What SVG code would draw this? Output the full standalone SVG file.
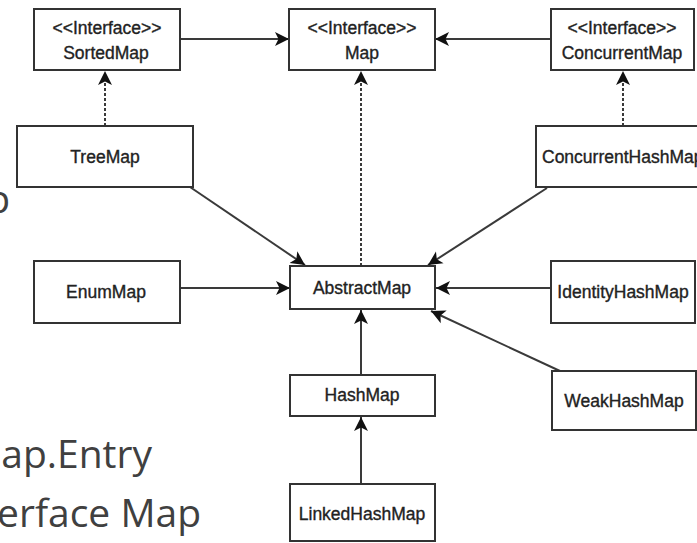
<svg xmlns="http://www.w3.org/2000/svg" width="697" height="543" viewBox="0 0 697 543">
<style>
  .box { fill: #fff; stroke: #333; stroke-width: 2; }
  .lbl { font-family: "Liberation Sans", Arial, sans-serif; font-size: 17.5px; fill: #222; stroke: #222; stroke-width: 0.35; text-anchor: middle; }
  .edge { fill: none; stroke: #3a3a3a; stroke-width: 2; marker-end: url(#arr); }
  .dash { stroke-dasharray: 3 2; }
  .bg { font-family: "Open Sans", "Noto Sans", sans-serif; font-size: 39px; fill: #404040; text-anchor: end; }
</style>
<defs>
  <marker id="arr" markerUnits="userSpaceOnUse" markerWidth="16" markerHeight="16" refX="14" refY="7" orient="auto" viewBox="0 0 16 14">
    <path d="M0,0 L14,7 L0,14 L3.5,7 z" fill="#111"/>
  </marker>
</defs>
<rect width="697" height="543" fill="#fff"/>
<g id="background-text">
  <text class="bg" x="10" y="213">p</text>
  <text class="bg" x="152" y="468">ap.Entry</text>
  <text class="bg" x="201" y="527">erface Map</text>
</g>
<g id="connectors">
  <path class="edge" d="M180,39 L289,39"/>
  <path class="edge" d="M551,39 L435,39"/>
  <path class="edge dash" d="M105,126 L105,71"/>
  <path class="edge dash" d="M623,126 L623,71"/>
  <path class="edge dash" d="M361,266 L361,71"/>
  <path class="edge" d="M190,187 L305,265"/>
  <path class="edge" d="M547,188 L428,265"/>
  <path class="edge" d="M180,288 L290,288"/>
  <path class="edge" d="M551,288 L436,288"/>
  <path class="edge" d="M560,371 L431,311"/>
  <path class="edge" d="M361,375 L361,310"/>
  <path class="edge" d="M361,484 L361,417"/>
</g>
<g id="SortedMap">
  <rect class="box" x="34" y="9" width="146" height="61"/>
  <text class="lbl" x="107" y="34">&lt;&lt;Interface&gt;&gt;</text>
  <text class="lbl" x="106" y="59">SortedMap</text>
</g>
<g id="Map">
  <rect class="box" x="289" y="9" width="146" height="61"/>
  <text class="lbl" x="362" y="34">&lt;&lt;Interface&gt;&gt;</text>
  <text class="lbl" x="362" y="59">Map</text>
</g>
<g id="ConcurrentMap">
  <rect class="box" x="551" y="9" width="143" height="61"/>
  <text class="lbl" x="622" y="34">&lt;&lt;Interface&gt;&gt;</text>
  <text class="lbl" x="622" y="59">ConcurrentMap</text>
</g>
<g id="TreeMap">
  <rect class="box" x="17" y="126" width="176" height="61"/>
  <text class="lbl" x="105" y="163">TreeMap</text>
</g>
<g id="ConcurrentHashMap">
  <rect class="box" x="536" y="126" width="180" height="61"/>
  <text class="lbl" x="542" y="163" style="text-anchor:start">ConcurrentHashMap</text>
</g>
<g id="EnumMap">
  <rect class="box" x="34" y="261" width="146" height="62"/>
  <text class="lbl" x="106" y="298">EnumMap</text>
</g>
<g id="AbstractMap">
  <rect class="box" x="290" y="266" width="145" height="43"/>
  <text class="lbl" x="362" y="294">AbstractMap</text>
</g>
<g id="IdentityHashMap">
  <rect class="box" x="551" y="261" width="144" height="62"/>
  <text class="lbl" x="623" y="298">IdentityHashMap</text>
</g>
<g id="WeakHashMap">
  <rect class="box" x="552" y="371" width="144" height="59"/>
  <text class="lbl" x="624" y="407">WeakHashMap</text>
</g>
<g id="HashMap">
  <rect class="box" x="290" y="375" width="145" height="41"/>
  <text class="lbl" x="362" y="401">HashMap</text>
</g>
<g id="LinkedHashMap">
  <rect class="box" x="290" y="484" width="145" height="57"/>
  <text class="lbl" x="362" y="520">LinkedHashMap</text>
</g>
</svg>
